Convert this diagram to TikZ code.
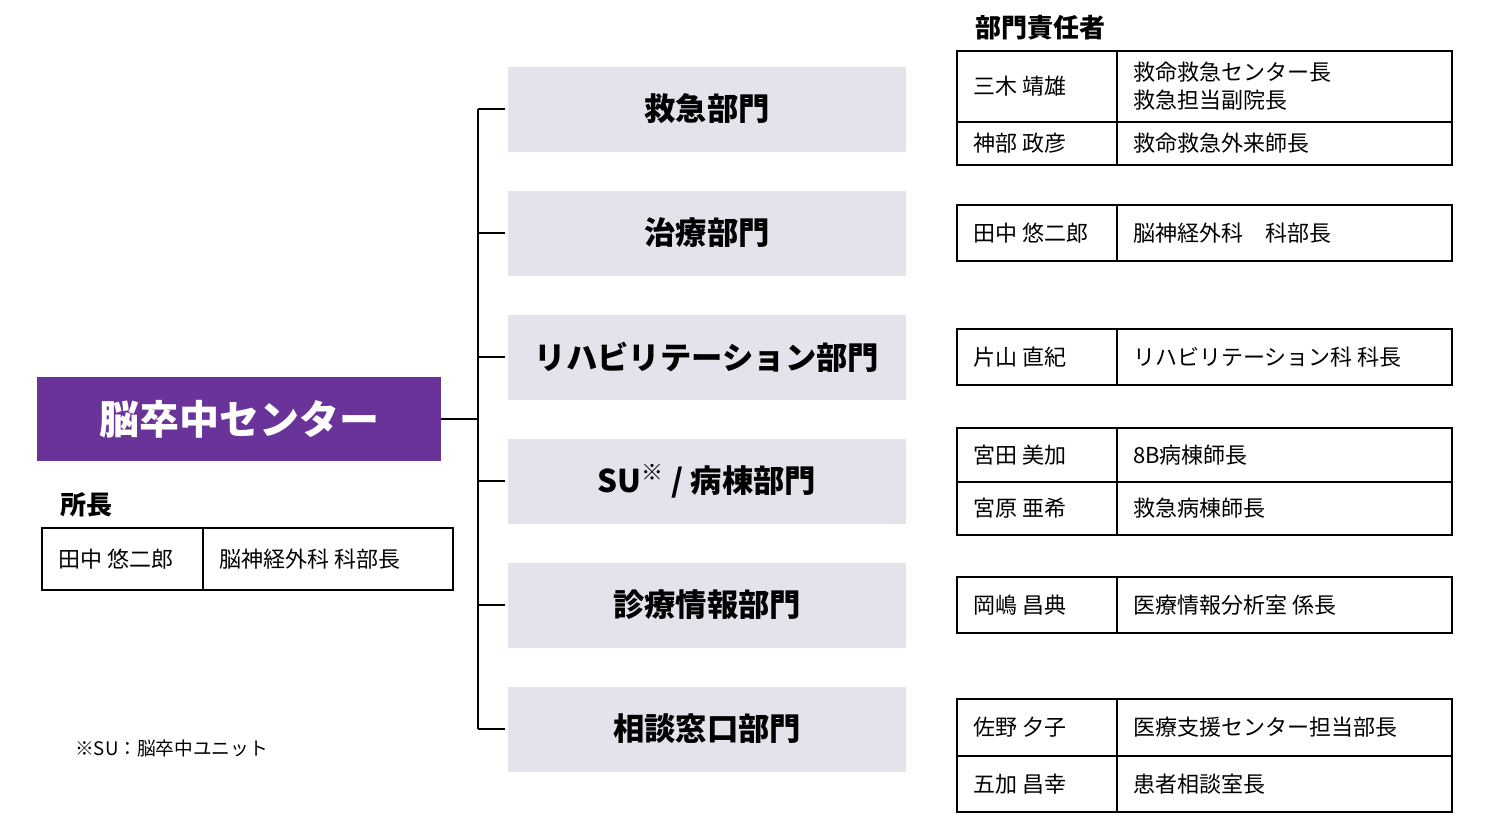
\documentclass[tikz,border=0pt]{standalone}
\usepackage{fontspec}
\setmainfont{Noto Sans CJK JP}
\definecolor{purp}{HTML}{6A3399}
\definecolor{dept}{HTML}{E5E2EC}
\begin{document}
\begin{tikzpicture}[x=0.75pt,y=-0.75pt,
  dbox/.style={fill=dept,draw=none,minimum width=398*0.75pt,minimum height=85*0.75pt,inner sep=0,font=\fontsize{23.5}{26}\selectfont\bfseries},
  tline/.style={line width=1.1pt,black},
  cell/.style={anchor=west,inner sep=0,font=\fontsize{16.5}{21}\selectfont,align=left}]
\useasboundingbox (0,0) rectangle (1500,835);
% main
\node[fill=purp,text=white,minimum width=404*0.75pt,minimum height=84*0.75pt,inner sep=0,font=\fontsize{30}{32}\selectfont\bfseries] (main) at (239,419) {脳卒中センター};
\node[anchor=west,inner sep=0,font=\fontsize{19.5}{22}\selectfont\bfseries] (sc) at (60,505) {所長};
\draw[tline] (42,528) rectangle (453,590); \draw[tline] (203,528)--(203,590);
\node[cell] (c0a) at (58,559) {田中 悠二郎};
\node[cell] (c0b) at (219,559) {脳神経外科 科部長};
\node[anchor=west,inner sep=0,font=\fontsize{14}{16}\selectfont] (fn) at (75,748) {※SU：脳卒中ユニット};
% departments
\node[dbox] (d1) at (707,109) {救急部門};
\node[dbox] (d2) at (707,233) {治療部門};
\node[dbox] (d3) at (707,357) {リハビリテーション部門};
\node[dbox] (d4) at (707,481) {SU\textsuperscript{※} / 病棟部門};
\node[dbox] (d5) at (707,605) {診療情報部門};
\node[dbox] (d6) at (707,729) {相談窓口部門};
\coordinate (j) at (478,419);
\coordinate (t) at (478,109);
\coordinate (b) at (478,729);
\draw[tline] (main.east) -- (j);
\draw[tline] (t) -- (b);
\foreach \d in {d1,d2,d3,d4,d5,d6} \draw[tline] (478,0 |- \d.west) -- ([xshift=-2.25pt]\d.west);
% responsible
\node[anchor=west,inner sep=0,font=\fontsize{19.5}{22}\selectfont\bfseries] (hd) at (975,28) {部門責任者};
\foreach \ya/\yb in {51/165,205/261,329/385,428/535,577/633,699/812}{
  \draw[tline] (957,\ya) rectangle (1452,\yb); \draw[tline] (1117,\ya)--(1117,\yb);}
\draw[tline] (957,122)--(1452,122);
\draw[tline] (957,482)--(1452,482);
\draw[tline] (957,756)--(1452,756);
\node[cell] (r1a) at (973,86) {三木 靖雄};
\node[cell] (r1b) at (1133,86) {救命救急センター長\\救急担当副院長};
\node[cell] (r2a) at (973,143) {神部 政彦};
\node[cell] (r2b) at (1133,143) {救命救急外来師長};
\node[cell] (r3a) at (973,233) {田中 悠二郎};
\node[cell] (r3b) at (1133,233) {脳神経外科\quad 科部長};
\node[cell] (r4a) at (973,357) {片山 直紀};
\node[cell] (r4b) at (1133,357) {リハビリテーション科 科長};
\node[cell] (r5a) at (973,455) {宮田 美加};
\node[cell] (r5b) at (1133,455) {8B病棟師長};
\node[cell] (r6a) at (973,508) {宮原 亜希};
\node[cell] (r6b) at (1133,508) {救急病棟師長};
\node[cell] (r7a) at (973,605) {岡嶋 昌典};
\node[cell] (r7b) at (1133,605) {医療情報分析室 係長};
\node[cell] (r8a) at (973,727) {佐野 夕子};
\node[cell] (r8b) at (1133,727) {医療支援センター担当部長};
\node[cell] (r9a) at (973,784) {五加 昌幸};
\node[cell] (r9b) at (1133,784) {患者相談室長};
\end{tikzpicture}
\end{document}
